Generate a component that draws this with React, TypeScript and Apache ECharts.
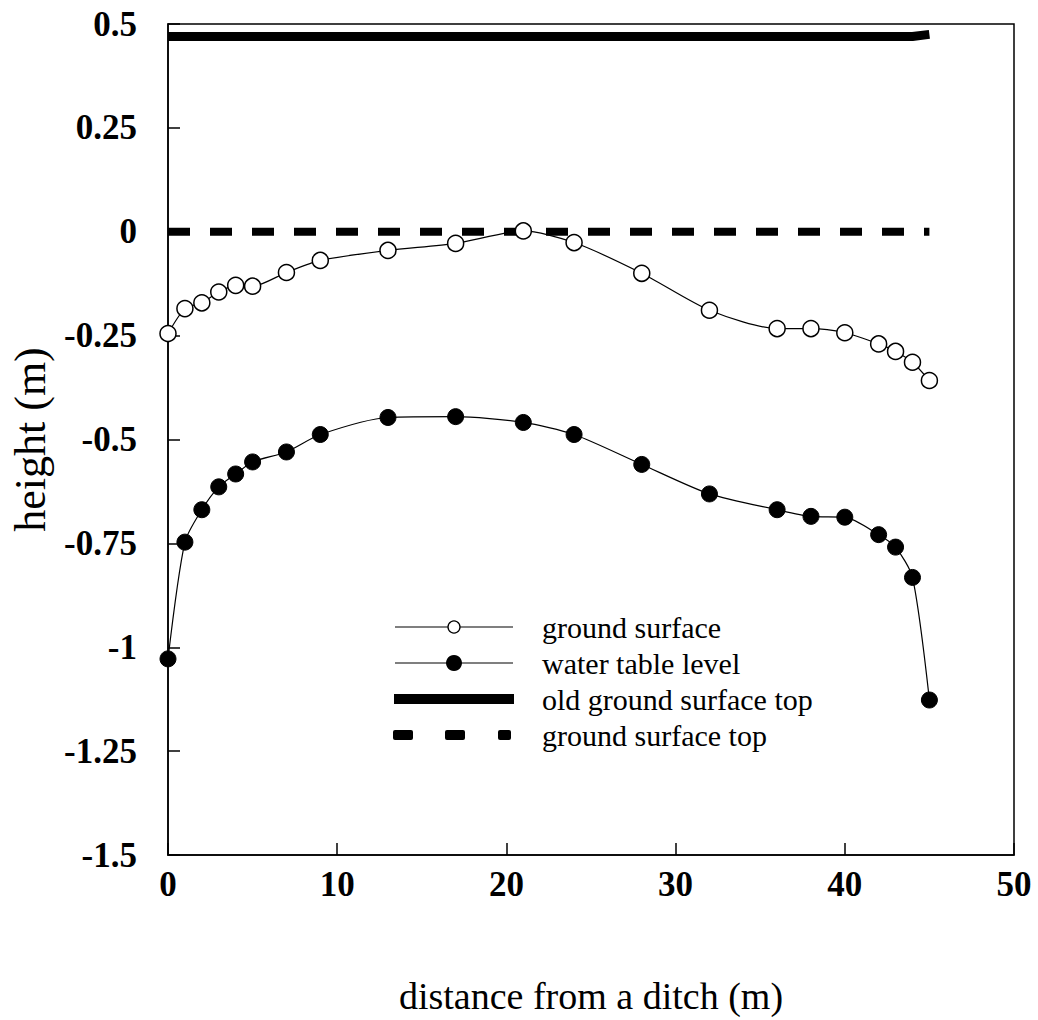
import React, { useEffect, useRef } from "react";
import * as echarts from "echarts";

const groundX = [0, 1, 2, 3, 4, 5, 7, 9, 13, 17, 21, 24, 28, 32, 36, 38, 40, 42, 43, 44, 45];
const groundY = [-0.245, -0.185, -0.171, -0.145, -0.129, -0.131, -0.098, -0.069, -0.045, -0.028, 0.002, -0.026, -0.1, -0.189, -0.233, -0.233, -0.243, -0.27, -0.288, -0.314, -0.358];

const waterX = [0, 1, 2, 3, 4, 5, 7, 9, 13, 17, 21, 24, 28, 32, 36, 38, 40, 42, 43, 44, 45];
const waterY = [-1.028, -0.747, -0.669, -0.614, -0.583, -0.554, -0.53, -0.488, -0.447, -0.445, -0.459, -0.488, -0.56, -0.631, -0.669, -0.685, -0.687, -0.729, -0.759, -0.832, -1.127];

const oldTopX = [0, 44, 45];
const oldTopY = [0.47, 0.47, 0.475];

const topX = [0, 45];
const topY = [0, 0];

const xTicks = { min: 0, max: 50, interval: 10 };
const yTicks = { min: -1.5, max: 0.5, interval: 0.25 };

const seriesNames = ["ground surface", "water table level", "old ground surface top", "ground surface top"];

const zip = (xs: number[], ys: number[]) => xs.map((x, i) => [x, ys[i]]);

const FONT = "'Liberation Serif', 'Times New Roman', serif";

function legendGraphic() {
  const x0 = 395;
  const x1 = 513;
  const mid = 454;
  const tx = 542;
  const rows = [627, 663, 699, 735];
  const els: any[] = [];
  // row 0: thin line + open circle
  els.push({ type: "line", shape: { x1: x0, y1: rows[0], x2: x1, y2: rows[0] }, style: { stroke: "#000", lineWidth: 1.2 } });
  els.push({ type: "circle", shape: { cx: mid, cy: rows[0], r: 6 }, style: { fill: "#fff", stroke: "#000", lineWidth: 1.3 } });
  // row 1: thin line + filled circle
  els.push({ type: "line", shape: { x1: x0, y1: rows[1], x2: x1, y2: rows[1] }, style: { stroke: "#000", lineWidth: 1.2 } });
  els.push({ type: "circle", shape: { cx: mid, cy: rows[1], r: 8 }, style: { fill: "#000" } });
  // row 2: thick line
  els.push({ type: "rect", shape: { x: x0 - 1, y: rows[2] - 5, width: x1 - x0 + 2, height: 10 }, style: { fill: "#000" } });
  // row 3: dashes
  [[393, 20], [445, 20], [498, 13]].forEach(([x, w]) => {
    els.push({ type: "rect", shape: { x, y: rows[3] - 5, width: w, height: 10, r: 2 }, style: { fill: "#000" } });
  });
  seriesNames.forEach((n, i) => {
    els.push({
      type: "text",
      x: tx,
      y: rows[i],
      style: { text: n, fontFamily: FONT, fontSize: 30, fill: "#000", textVerticalAlign: "middle", verticalAlign: "middle" },
    });
  });
  return els;
}

export default function App() {
  const ref = useRef<HTMLDivElement>(null);
  useEffect(() => {
    if (!ref.current) return;
    const chart = echarts.init(ref.current, null, { renderer: "svg" });
    chart.setOption({
      animation: false,
      backgroundColor: "#fff",
      grid: {
        left: 161,
        top: 24,
        right: 24,
        bottom: 156,
        show: true,
        borderColor: "#000",
        borderWidth: 1.5,
      },
      graphic: legendGraphic(),
      xAxis: {
        type: "value",
        min: xTicks.min,
        max: xTicks.max,
        interval: xTicks.interval,
        name: "distance from a ditch (m)",
        nameLocation: "middle",
        nameGap: 122,
        nameTextStyle: { fontFamily: FONT, fontSize: 38, color: "#000" },
        axisLine: { show: true, onZero: false, lineStyle: { color: "#000", width: 1.5 } },
        axisTick: { show: true, inside: true, length: 12, lineStyle: { color: "#000", width: 1.5 } },
        axisLabel: { fontFamily: FONT, fontSize: 35, fontWeight: "bold", color: "#000", margin: 12 },
        splitLine: { show: false },
      },
      yAxis: {
        type: "value",
        min: yTicks.min,
        max: yTicks.max,
        interval: yTicks.interval,
        name: "height (m)",
        nameLocation: "middle",
        nameGap: 116,
        nameRotate: 90,
        nameTextStyle: { fontFamily: FONT, fontSize: 44, color: "#000" },
        axisLine: { show: true, onZero: false, lineStyle: { color: "#000", width: 1.5 } },
        axisTick: { show: true, inside: true, length: 12, lineStyle: { color: "#000", width: 1.5 } },
        axisLabel: { fontFamily: FONT, fontSize: 35, fontWeight: "bold", color: "#000", margin: 31 },
        splitLine: { show: false },
      },
      series: [
        {
          name: seriesNames[2],
          type: "line",
          data: zip(oldTopX, oldTopY),
          showSymbol: false,
          symbol: "none",
          lineStyle: { color: "#000", width: 9 },
          itemStyle: { color: "#000" },
          z: 2,
        },
        {
          name: seriesNames[3],
          type: "line",
          data: zip(topX, topY),
          showSymbol: false,
          symbol: "none",
          lineStyle: { color: "#000", width: 8, type: [22, 20] },
          itemStyle: { color: "#000" },
          z: 2,
        },
        {
          name: seriesNames[0],
          type: "line",
          data: zip(groundX, groundY),
          smooth: 0.25,
          symbol: "circle",
          symbolSize: 16,
          lineStyle: { color: "#000", width: 1.2 },
          itemStyle: { color: "#fff", borderColor: "#000", borderWidth: 1.5 },
          z: 3,
        },
        {
          name: seriesNames[1],
          type: "line",
          data: zip(waterX, waterY),
          smooth: 0.25,
          symbol: "circle",
          symbolSize: 16,
          lineStyle: { color: "#000", width: 1.2 },
          itemStyle: { color: "#000", borderColor: "#000", borderWidth: 1 },
          z: 3,
        },
      ],
    });
    return () => chart.dispose();
  }, []);
  return (
    <div
      ref={ref}
      style={{ position: "fixed", left: 0, top: 0, width: 1038, height: 1020, background: "#fff" }}
    />
  );
}
